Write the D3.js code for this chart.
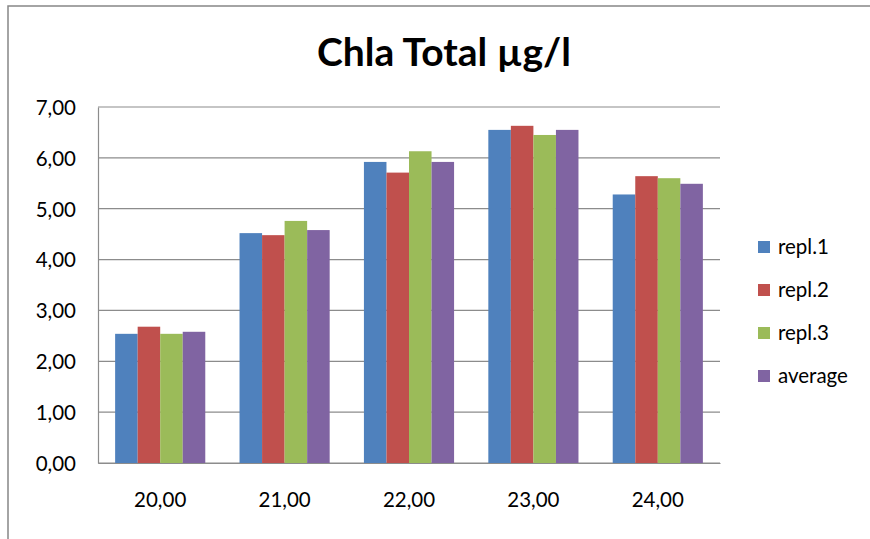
<!DOCTYPE html>
<html>
<head>
<meta charset="utf-8">
<script src="https://cdn.jsdelivr.net/npm/d3@7"></script>
<style>
  html, body { margin: 0; padding: 0; background: #fff; }
  svg { display: block; }
  text { font-family: Lato, "Open Sans", sans-serif; fill: #000; }
</style>
</head>
<body>
<svg id="chart" width="870" height="539"></svg>
<script>
const title = "Chla Total µg/l";
const categories = ["20,00", "21,00", "22,00", "23,00", "24,00"];
const seriesNames = ["repl.1", "repl.2", "repl.3", "average"];
const repl1 = [2.54, 4.52, 5.92, 6.55, 5.28];
const repl2 = [2.68, 4.48, 5.71, 6.63, 5.64];
const repl3 = [2.54, 4.76, 6.13, 6.45, 5.60];
const average = [2.58, 4.58, 5.92, 6.55, 5.49];
const yTicks = [0, 1, 2, 3, 4, 5, 6, 7];
const colors = ["#4F81BD", "#C0504D", "#9BBB59", "#8064A2"];

const seriesValues = [repl1, repl2, repl3, average];
const data = categories.map((c, i) => ({
  cat: c,
  vals: seriesNames.map((s, j) => ({ key: s, value: seriesValues[j][i], color: colors[j] }))
}));

const svg = d3.select("#chart");

// chart area border
svg.append("rect")
  .attr("x", 8).attr("y", 6).attr("width", 880).attr("height", 560)
  .attr("fill", "#fff").attr("stroke", "#878787").attr("stroke-width", 1.5);

const plot = { left: 98, right: 720, top: 107, bottom: 463 };

const x0 = d3.scaleBand().domain(categories).range([plot.left, plot.right]).padding(0);
const x1 = d3.scaleBand().domain(seriesNames).range([0, x0.bandwidth()])
  .paddingInner(0).paddingOuter(0.76);
const y = d3.scaleLinear().domain([0, 7]).range([plot.bottom, plot.top]);

// gridlines
svg.append("g")
  .selectAll("line")
  .data(yTicks)
  .join("line")
  .attr("x1", plot.left).attr("x2", plot.right)
  .attr("y1", d => y(d)).attr("y2", d => y(d))
  .attr("stroke", "#8c8c8c").attr("stroke-width", 1.2);

// y axis
const yAxis = d3.axisLeft(y).tickValues(yTicks)
  .tickFormat(d => d3.format(".2f")(d).replace(".", ","))
  .tickSize(0).tickPadding(9);
const gy = svg.append("g").attr("transform", `translate(${plot.left},0)`).call(yAxis);
gy.select(".domain").attr("stroke", "#8c8c8c").attr("stroke-width", 1.2);
gy.selectAll("text").style("font-size", "20.5px").attr("fill", "#000")
  .attr("x", -22).attr("dy", "0.36em");

// bars
svg.append("g")
  .selectAll("g")
  .data(data)
  .join("g")
  .attr("transform", d => `translate(${x0(d.cat)},0)`)
  .selectAll("rect")
  .data(d => d.vals)
  .join("rect")
  .attr("x", d => x1(d.key))
  .attr("width", x1.bandwidth())
  .attr("y", d => y(d.value))
  .attr("height", d => y(0) - y(d.value))
  .attr("fill", d => d.color);

// x axis
const xAxis = d3.axisBottom(x0).tickSize(0).tickPadding(29);
const gx = svg.append("g").attr("transform", `translate(0,${plot.bottom})`).call(xAxis);
gx.select(".domain").attr("stroke", "#8c8c8c").attr("stroke-width", 1.2);
gx.selectAll("text").style("font-size", "20.5px").attr("fill", "#000");

// title
svg.append("text")
  .attr("x", 444).attr("y", 66)
  .attr("text-anchor", "middle")
  .style("font-size", "39px").style("font-weight", "bold")
  .text(title);

// legend
const legend = svg.append("g")
  .selectAll("g")
  .data(seriesNames)
  .join("g")
  .attr("transform", (d, i) => `translate(758,${247 + i * 43})`);
legend.append("rect")
  .attr("x", 0).attr("y", -6).attr("width", 12).attr("height", 12)
  .attr("fill", (d, i) => colors[i]);
legend.append("text")
  .attr("x", 20).attr("y", 0).attr("dy", "0.36em")
  .style("font-size", "20.5px")
  .text(d => d);
</script>
</body>
</html>
